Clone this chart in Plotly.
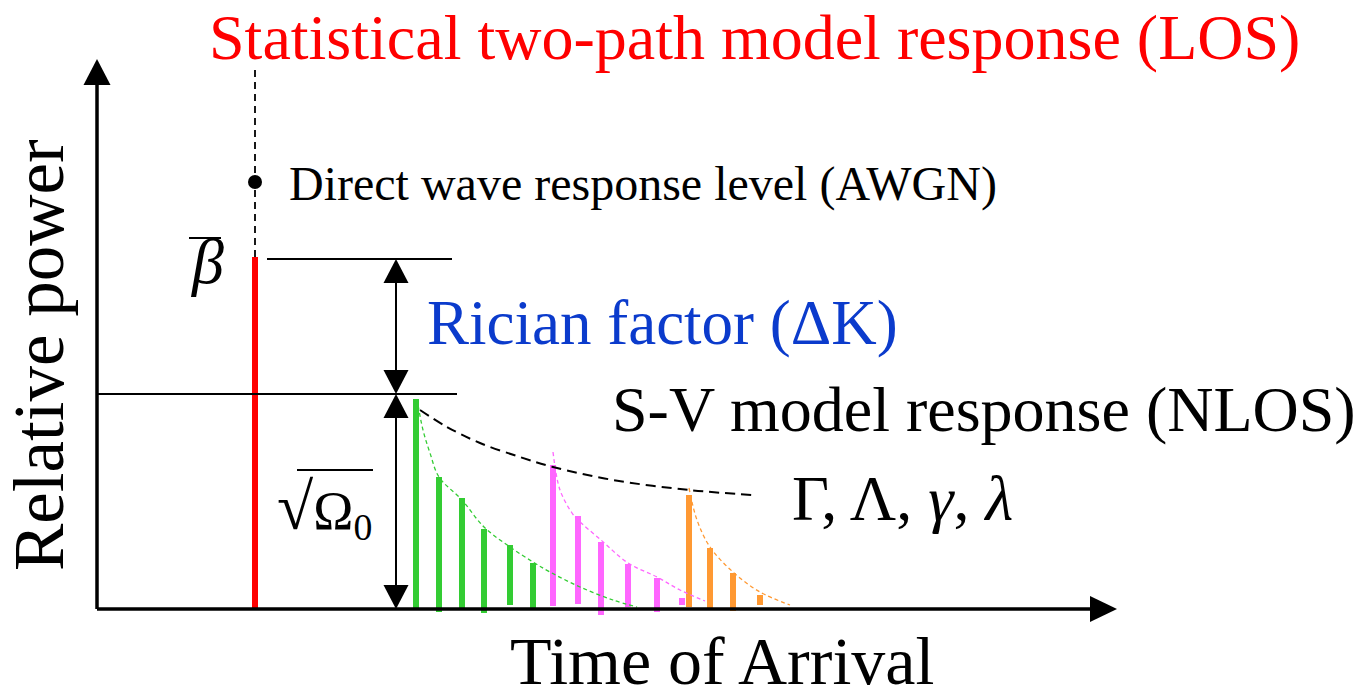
import plotly.graph_objects as go

# ---- data (x: time of arrival, y: relative power; axis origin at 0,0) ----
los_x = [158]
los_top = [352]
los_base = [0]
awgn_level = 427          # direct wave response level
guide_top = 541           # top of the dashed LOS guide line

green_x = [319, 342, 365, 387, 413, 436]
green_top = [210, 132, 111, 80, 64, 46]
green_base = [-1, -3, -1, -4, 4, 0]

pink_x = [456, 481, 504, 531, 560, 585]
pink_top = [144, 93, 67, 45, 31, 11]
pink_base = [3, 5, -6, 2, -3, 4]

orange_x = [592, 613, 636, 663]
orange_top = [114, 61, 36, 14]
orange_base = [2, 1, -2, 4]

# ray decay envelopes of each cluster
green_env_x = [320, 326, 333, 342, 365, 387, 413, 436, 453, 483, 516, 540]
green_env_y = [210, 179, 156, 132, 109, 82, 62, 47, 37, 22, 9, 2]
pink_env_x = [456, 463, 475, 481, 504, 531, 560, 583, 608]
pink_env_y = [157, 119, 96, 89, 69, 46, 32, 19, 8]
orange_env_x = [592, 600, 613, 636, 663, 693]
orange_env_y = [121, 89, 62, 37, 17, 4]
# cluster decay envelope
cluster_env_x = [323, 350, 383, 423, 456, 516, 592, 656]
cluster_env_y = [199, 182, 166, 152, 142, 129, 119, 114]

beta_level = 350          # LOS peak reference line
omega_level = 215         # NLOS peak reference line

X_RANGE = [-97, 1261]
Y_RANGE = [-77, 609]

FONT = "Liberation Serif"
GREEN, PINK, ORANGE = "#33cc33", "#ff66ff", "#ff9933"
RED, BLUE = "#ff0000", "#0b3bcc"

fig = go.Figure()


def add_bars(xs, tops, bases, color):
    fig.add_trace(go.Bar(
        x=xs, y=[t - b for t, b in zip(tops, bases)], base=bases,
        width=6, marker=dict(color=color, line=dict(width=0)),
        hoverinfo="skip"))


def add_env(xs, ys, color, width, dash):
    fig.add_trace(go.Scatter(
        x=xs, y=ys, mode="lines", line=dict(color=color, width=width, dash=dash, shape="spline"),
        hoverinfo="skip"))


add_env(green_env_x, green_env_y, GREEN, 1.3, "4px,3px")
add_env(pink_env_x, pink_env_y, PINK, 1.3, "4px,3px")
add_env(orange_env_x, orange_env_y, ORANGE, 1.3, "4px,3px")
add_env(cluster_env_x, cluster_env_y, "black", 2, "10px,6px")

add_bars(los_x, los_top, los_base, RED)
add_bars(green_x, green_top, green_base, GREEN)
add_bars(pink_x, pink_top, pink_base, PINK)
add_bars(orange_x, orange_top, orange_base, ORANGE)

# direct wave level marker
fig.add_trace(go.Scatter(x=los_x, y=[awgn_level], mode="markers",
                         marker=dict(color="black", size=14), hoverinfo="skip"))

shapes = []


def line(x0, y0, x1, y1, width=2, dash=None, color="black"):
    d = dict(type="line", x0=x0, y0=y0, x1=x1, y1=y1, xref="x", yref="y",
             line=dict(color=color, width=width))
    if dash:
        d["line"]["dash"] = dash
    shapes.append(d)


def head(tip_x, tip_y, direction, length, half):
    if direction == "up":
        p = f"M{tip_x},{tip_y} L{tip_x - half},{tip_y - length} L{tip_x + half},{tip_y - length} Z"
    elif direction == "down":
        p = f"M{tip_x},{tip_y} L{tip_x - half},{tip_y + length} L{tip_x + half},{tip_y + length} Z"
    else:
        p = f"M{tip_x},{tip_y} L{tip_x - length},{tip_y - half} L{tip_x - length},{tip_y + half} Z"
    shapes.append(dict(type="path", path=p, xref="x", yref="y",
                       fillcolor="black", line=dict(width=0)))


# axes with arrowheads
line(0, 0, 0, 526, width=3.5)
head(0, 550, "up", 26, 13.5)
line(0, 0, 995, 0, width=3.5)
head(1020, 0, "right", 27, 13)

# LOS guide
line(los_x[0], los_top[0], los_x[0], guide_top, width=1.8, dash="7px,5px")

# reference levels
line(170, beta_level, 355, beta_level, width=2)
line(0, omega_level, 360, omega_level, width=2)

# double arrows
ax_x = 299
line(ax_x, omega_level + 20, ax_x, beta_level - 20, width=2)
head(ax_x, beta_level, "up", 24, 12.5)
head(ax_x, omega_level, "down", 24, 12.5)
line(ax_x, 20, ax_x, omega_level - 20, width=2)
head(ax_x, omega_level, "up", 24, 12.5)
head(ax_x, 0, "down", 24, 12.5)

# overbars for symbols
line(92, 371, 124, 371, width=2)
line(200, 139, 276, 139, width=2)

annotations = []


def text(x, y, s, size, color="black", xanchor="left", angle=0):
    annotations.append(dict(x=x, y=y, xref="x", yref="y", text=s, showarrow=False,
                            xanchor=xanchor, yanchor="middle", textangle=angle,
                            font=dict(family=FONT, size=size, color=color)))


text(657, 572, "Statistical two-path model response (LOS)", 64, RED, xanchor="center")
text(190, 425, "Direct wave response level (AWGN)", 48)
text(110, 348, "<i>β</i>", 64, xanchor="center")
text(328, 286, "Rician factor (ΔK)", 63, BLUE)
text(513, 200, "S-V model response (NLOS)", 64)
text(693, 111, "Γ, Λ, <i>γ</i>, <i>λ</i>", 64)
text(178, 100, "<span style='font-size:66px'>√</span>Ω<sub>0</sub>", 54)
text(-58, 254, "Relative power", 71, xanchor="center", angle=-90)
text(625, -52, "Time of Arrival", 68, xanchor="center")

fig.update_layout(
    width=1358, height=686, margin=dict(l=0, r=0, t=0, b=0),
    paper_bgcolor="white", plot_bgcolor="white", showlegend=False,
    barmode="overlay",
    xaxis=dict(range=X_RANGE, visible=False, fixedrange=True),
    yaxis=dict(range=Y_RANGE, visible=False, fixedrange=True),
    shapes=shapes, annotations=annotations,
)

fig.write_html("out.html")
